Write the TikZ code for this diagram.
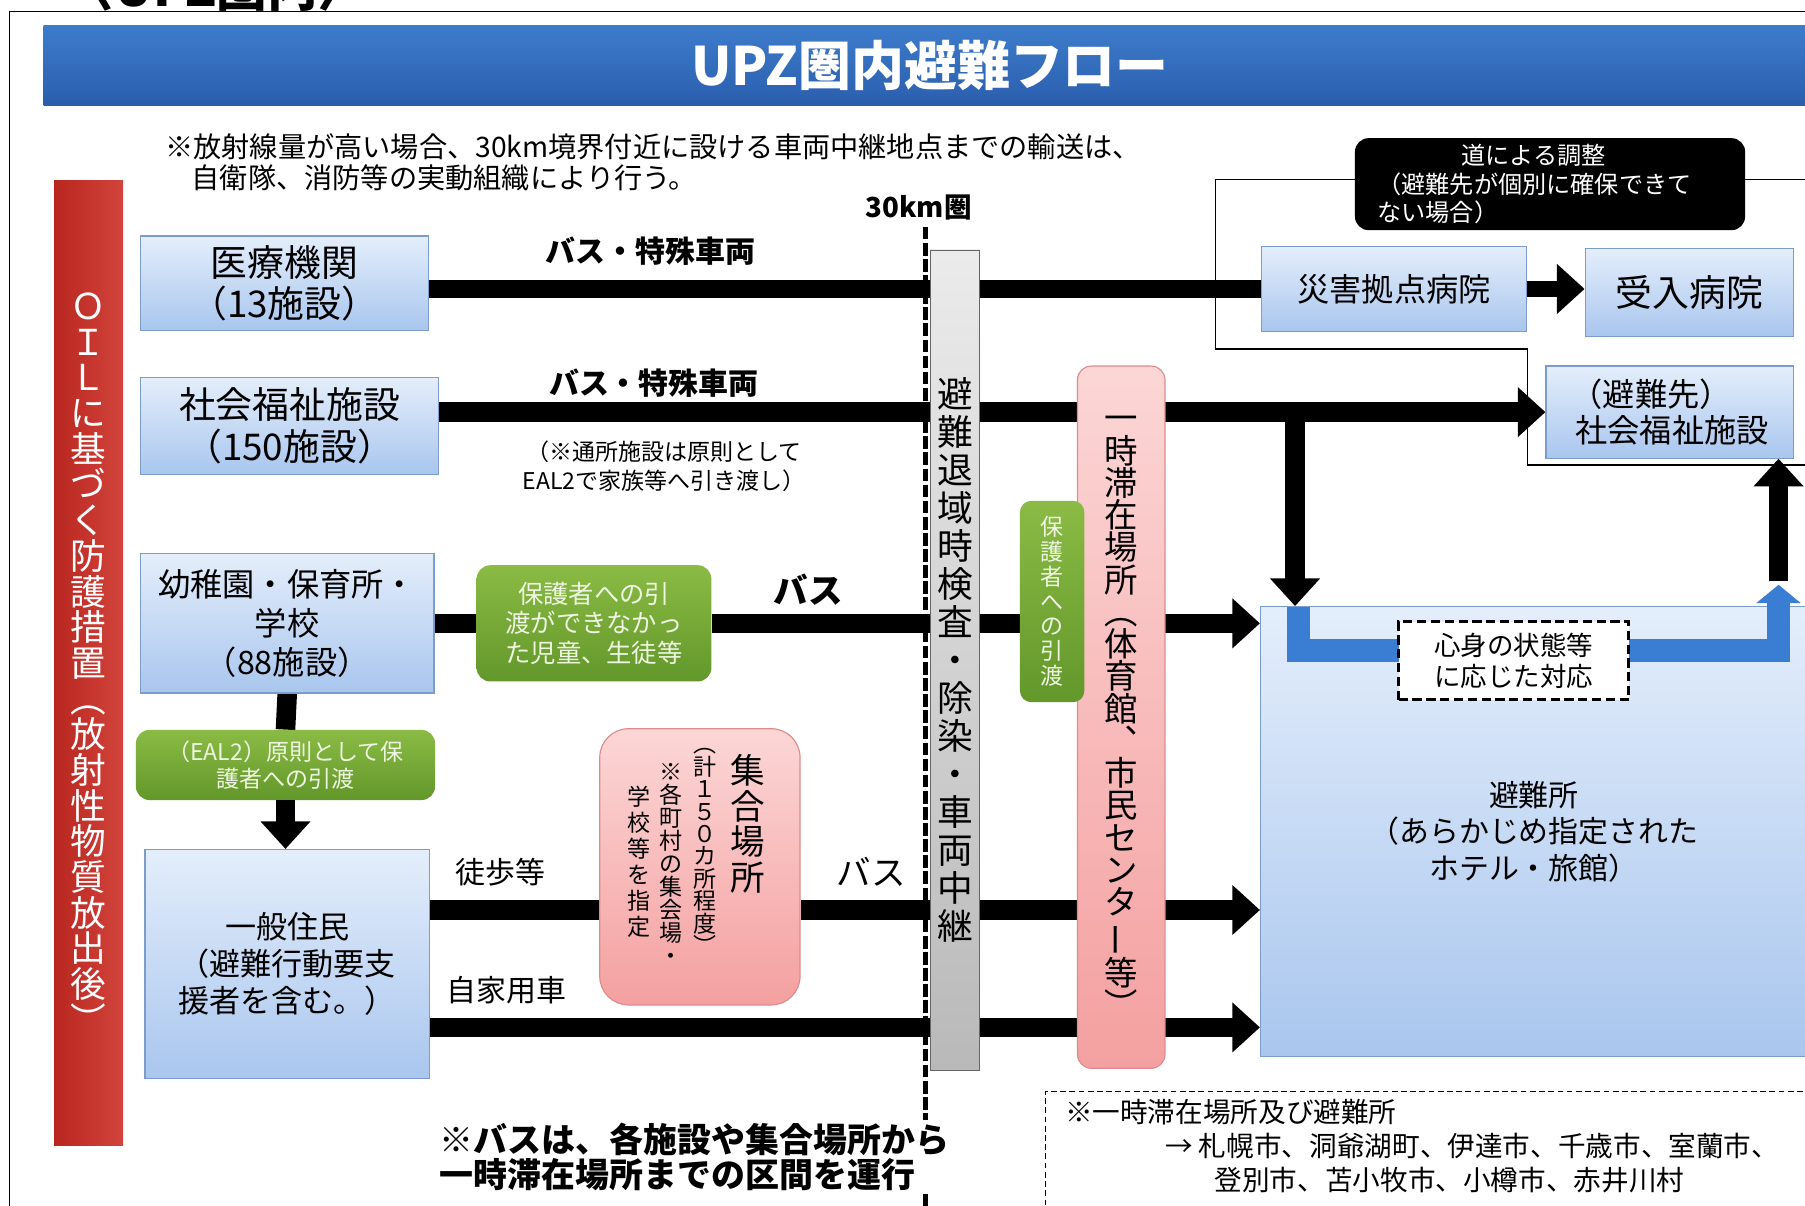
\documentclass[tikz,border=0pt]{standalone}
\usepackage{fontspec}
\setmainfont{Noto Sans CJK JP}
\usetikzlibrary{arrows.meta, positioning}

\newcommand{\fsz}[2]{\fontsize{#1}{#2}\selectfont}

\definecolor{bannerA}{HTML}{3D7CCB}
\definecolor{bannerB}{HTML}{2A5EAD}
\definecolor{boxtop}{HTML}{E4EEFB}
\definecolor{boxbot}{HTML}{A9C6EE}
\definecolor{boxline}{HTML}{7C9CCB}
\definecolor{grtop}{HTML}{8BBB45}
\definecolor{grbot}{HTML}{62972A}
\definecolor{grtext}{HTML}{EEF6E2}
\definecolor{pktop}{HTML}{FCD6D6}
\definecolor{pkbot}{HTML}{F4A0A0}
\definecolor{pkline}{HTML}{DC8C8C}
\definecolor{oilA}{HTML}{B8261F}
\definecolor{oilB}{HTML}{D2443D}
\definecolor{graytop}{HTML}{EBEBEB}
\definecolor{graybot}{HTML}{B9B9B9}
\definecolor{bandblue}{HTML}{3A7ED3}

\pgfdeclarelayer{bg}
\pgfsetlayers{bg,main}

\tikzset{
  ubox/.style={draw=boxline, line width=1pt, top color=boxtop, bottom color=boxbot, align=center, inner sep=0pt}, % blue boxes
  gbox/.style={rounded corners=12pt, top color=grtop, bottom color=grbot, text=grtext, align=center, inner sep=0pt}, % green notes
  pbox/.style={draw=pkline, line width=1pt, top color=pktop, bottom color=pkbot, align=center, inner sep=0pt}, % pink places
  bar/.style={line width=17pt}, % thick route without head
  flow/.style={bar, -{Triangle[length=24pt, width=42pt]}}, % thick route with head
  route/.style={font=\bfseries\fsz{26}{26}},
  band/.style={draw=bandblue, line width=20pt},
}

\begin{document}
\begin{tikzpicture}[x=1pt, y=-1pt]
  \useasboundingbox (0,0) rectangle (1568,1047);
  \begin{pgfonlayer}{bg}
    \fill[white] (0,0) rectangle (1568,1047);
  \end{pgfonlayer}

  % header
  \node[anchor=base west, font=\bfseries\fsz{44}{44}] (cap) at (52,6) {〈UPZ圏内〉};
  \draw[line width=1.2pt] (8,1060) -- (8,10) -- (1590,10);
  \node[top color=bannerA, bottom color=bannerB, minimum width=1540pt, minimum height=70pt,
        text=white, font=\bfseries\fsz{46}{46}] (title) at (808,57) {UPZ圏内避難フロー};
  \node[anchor=west, align=left, font=\fsz{24.5}{27}] (topnote) at (140,141)
    {※放射線量が高い場合、30km境界付近に設ける車両中継地点までの輸送は、\\\hspace*{23pt}自衛隊、消防等の実動組織により行う。};

  % left side
  \node[left color=oilA, right color=oilB, minimum width=60pt, minimum height=838pt, text=white,
        align=center, inner sep=0pt, font=\fsz{31}{31}] (oil) at (77,576)
    {Ｏ\\Ｉ\\Ｌ\\に\\基\\づ\\く\\防\\護\\措\\置\\︵\\放\\射\\性\\物\\質\\放\\出\\後\\︶};
  \node[ubox, minimum width=250pt, minimum height=82pt, font=\fsz{32}{36}] (iryo) at (247,246) {医療機関\\（13施設）};
  \node[ubox, minimum width=259pt, minimum height=84pt, font=\fsz{32}{36}] (fukushi) at (251.5,370) {社会福祉施設\\（150施設）};
  \node[ubox, minimum width=255pt, minimum height=121pt, font=\fsz{28}{34}] (youchien) at (249.5,541.5) {幼稚園・保育所・\\学校\\（88施設）};
  \node[gbox, minimum width=260pt, minimum height=61pt, font=\fsz{20}{24}] (eal) at (248,664.5) {（EAL2）原則として保\\護者への引渡};
  \node[ubox, minimum width=247pt, minimum height=199pt, font=\fsz{27}{32}] (jumin) at (249.5,837.5) {一般住民\\（避難行動要支\\援者を含む。）};
  \node[gbox, minimum width=204pt, minimum height=101pt, font=\fsz{22}{26}] (youji) at (516,541.5) {保護者への引\\渡ができなかっ\\た児童、生徒等};

  % gathering points
  \node[pbox, rounded corners=25pt, minimum width=174pt, minimum height=240pt] (shugo) at (608,753) {};
  \node[anchor=north, align=center, inner sep=0pt, font=\fsz{30}{31}] (shugoA) at (650,655) {集\\合\\場\\所};
  \node[anchor=north, align=center, inner sep=0pt, font=\fsz{20}{19.5}] (shugoB) at (612,650) {︵\\計\\１\\５\\０\\カ\\所\\程\\度\\︶};
  \node[anchor=north, align=center, inner sep=0pt, font=\fsz{20}{20}] (shugoC) at (583,663) {※\\各\\町\\村\\の\\集\\会\\場\\・};
  \node[anchor=north, align=center, inner sep=0pt, font=\fsz{20}{22.5}] (shugoD) at (555,683) {学\\校\\等\\を\\指\\定};

  % 30km line and checks
  \coordinate (kmtop) at (804,197);
  \coordinate (kmbot) at (804,1060);
  \draw[line width=5pt, dash pattern=on 11pt off 3pt] (kmtop) -- (kmbot);
  \node[font=\bfseries\fsz{24}{24}] (km) at (798,180) {30km圏};
  \node[draw=black!60, top color=graytop, bottom color=graybot, minimum width=43pt, minimum height=713pt,
        align=center, inner sep=0pt, font=\fsz{31}{33}] (kensa) at (829.5,573.5)
    {避\\難\\退\\域\\時\\検\\査\\・\\除\\染\\・\\車\\両\\中\\継};
  \node[pbox, rounded corners=12pt, minimum width=76pt, minimum height=610pt, font=\fsz{29}{28}] (taizai) at (974,623)
    {一\\時\\滞\\在\\場\\所\\︵\\体\\育\\館\\︑\\市\\民\\セ\\ン\\タ\\\rotatebox[origin=c]{90}{ー}\\等\\︶};
  \node[gbox, rounded corners=10pt, minimum width=56pt, minimum height=175pt, font=\fsz{20}{21.5}] (hogo) at (914,522.5)
    {保\\護\\者\\へ\\の\\引\\渡};

  % destinations
  \node[ubox, minimum width=475pt, minimum height=391pt, font=\fsz{26}{32}] (hinanjo) at (1332.5,722.5)
    {避難所\\（あらかじめ指定された\\ホテル・旅館）};
  \node[ubox, minimum width=230pt, minimum height=74pt, font=\fsz{28}{28}] (kyoten) at (1211,251) {災害拠点病院};
  \node[ubox, minimum width=181pt, minimum height=76pt, font=\fsz{32}{32}] (ukeire) at (1467.5,254) {受入病院};
  \node[ubox, minimum width=215pt, minimum height=80pt, align=left, font=\fsz{28}{32}] (shisetsu) at (1450.5,358)
    {（避難先）\\\hspace*{4pt}社会福祉施設};
  \node[fill=black, rounded corners=12pt, text=white, align=left, text width=300pt, inner xsep=19.5pt,
        minimum height=80pt, font=\fsz{21}{25}] (chousei) at (1346.5,160)
    {\hspace*{73pt}道による調整\\（避難先が個別に確保できて\\ない場合）};

  % routes (behind the boxes)
  \begin{pgfonlayer}{bg}
    \coordinate (lpA) at (1590,156);
    \coordinate (lpB) at (1056,156);
    \coordinate (lpC) at (1056,303);
    \coordinate (lpD) at (1327,303);
    \coordinate (lpE) at (1327,404);
    \coordinate (lpF) at (1590,404);
    \draw[line width=1.5pt] (lpA) -- (lpB) -- (lpC) -- (lpD) -- (lpE) -- (lpF);
    \draw[bar, line width=15pt] (iryo.east |- kyoten.west) -- (kyoten.west);
    \draw[flow] (fukushi.east |- shisetsu.west) -- (shisetsu.west);
    \coordinate (br) at (1125,358);
    \draw[flow] (br) -- (br |- hinanjo.north);
    \draw[bar] (youchien.east) -- (youji.west);
    \draw[flow] (youji.east) -- (youji.east -| hinanjo.west);
    \draw[bar] (youchien.south) -- (eal.north);
    \coordinate (j1) at ([yshift=47pt]jumin.east);
    \coordinate (j2) at ([yshift=-55pt]jumin.east);
    \draw[bar] (j1) -- (j1 -| shugo.west);
    \draw[flow] (j1 -| shugo.east) -- (j1 -| hinanjo.west);
    \draw[flow] (j2) -- (j2 -| hinanjo.west);
  \end{pgfonlayer}
  \draw[flow] (eal.south) -- (eal.south |- jumin.north);
  \draw[flow, line width=14pt] (kyoten.east) -- (kyoten.east -| ukeire.west);

  % care according to condition
  \coordinate (bdA) at (1128,527);
  \coordinate (bdB) at (1128,565);
  \coordinate (bdC) at (1545,565);
  \coordinate (bdD) at (1545,508);
  \draw[band, line cap=butt, -{Triangle[length=16pt, width=38pt]}] (bdA) -- (bdB) -- (bdC) -- (bdD);
  \coordinate (up) at (1545,505);
  \draw[flow] (up) -- (up |- shisetsu.south);
  \node[draw, line width=2.5pt, dash pattern=on 8pt off 4pt, fill=white, minimum width=200pt, minimum height=68pt,
        align=center, inner sep=0pt, font=\fsz{23}{27}] (taiou) at (1315,574) {心身の状態等\\に応じた対応};

  % route labels
  \node[route] (lblA) at (565,218) {バス・特殊車両};
  \node[route] (lblB) at (568,333) {バス・特殊車両};
  \node[align=center, font=\fsz{20}{25}] (tsusho) at (577,405) {（※通所施設は原則として\\EAL2で家族等へ引き渡し）};
  \node[font=\bfseries\fsz{30}{30}] (lblC) at (702,512) {バス};
  \node[font=\fsz{26}{26}] (lblD) at (435,758) {徒歩等};
  \node[font=\fsz{30}{30}] (lblE) at (757,757) {バス};
  \node[font=\fsz{26}{26}] (lblF) at (440,860) {自家用車};

  % bottom notes
  \node[anchor=west, align=left, fill=white, inner sep=2pt, font=\bfseries\fsz{29.5}{31}] (busnote) at (380,1005)
    {※バスは、各施設や集合場所から\\一時滞在場所までの区間を運行};
  \draw[line width=1.2pt, dash pattern=on 5pt off 3pt] (1590,948) -- (908,948) -- (908,1060);
  \node[anchor=north west, align=left, inner sep=0pt, font=\fsz{24}{29.5}] (areas) at (925,955)
    {※一時滞在場所及び避難所\\\hspace*{87pt}→ 札幌市、洞爺湖町、伊達市、千歳市、室蘭市、\\\hspace*{130pt}登別市、苫小牧市、小樽市、赤井川村};
\end{tikzpicture}
\end{document}
